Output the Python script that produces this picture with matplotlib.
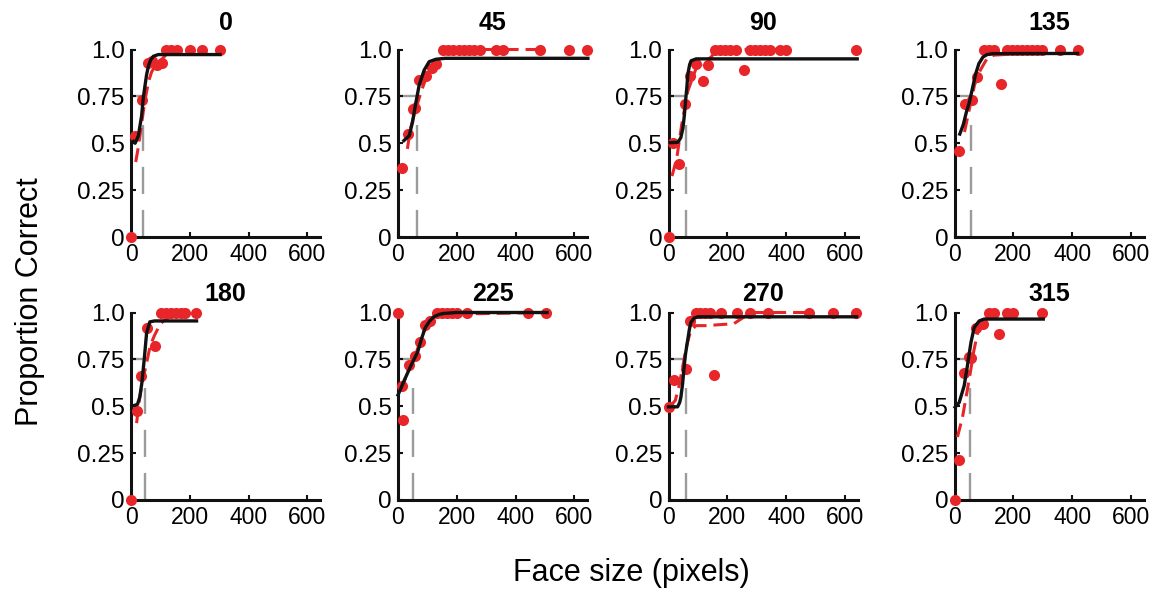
import matplotlib
matplotlib.use('Agg')
import matplotlib.pyplot as plt

plt.rcParams['font.family'] = ['Liberation Sans', 'DejaVu Sans']
plt.rcParams['lines.scale_dashes'] = False

# ---------------- data ----------------
titles = ['0', '45', '90', '135', '180', '225', '270', '315']
thresholds = [42, 65, 61, 57, 47, 51, 61, 52]

x_ticks = [0, 200, 400, 600]
x_tick_labels = ['0', '200', '400', '600']
y_ticks = [0, 0.25, 0.5, 0.75, 1.0]
y_tick_labels = ['0', '0.25', '0.5', '0.75', '1.0']

# data points (red dots)
dots_x_0 = [0, 14, 36, 57, 70, 87, 104, 118, 137, 157, 202, 241, 303]
dots_y_0 = [0, 0.54, 0.73, 0.93, 0.94, 0.92, 0.93, 1, 1, 1, 1, 1, 1]
dots_x_45 = [15, 34, 52, 57, 72, 95, 115, 130, 152, 170, 188, 206, 224, 242, 260, 278, 334, 357, 482, 582, 642]
dots_y_45 = [0.37, 0.55, 0.685, 0.69, 0.84, 0.86, 0.90, 0.925, 1, 1, 1, 1, 1, 1, 1, 1, 1, 1, 1, 1, 1]
dots_x_90 = [0, 15, 37, 55, 72, 94, 117, 134, 157, 174, 191, 208, 231, 256, 276, 293, 310, 327, 344, 378, 401, 637]
dots_y_90 = [0, 0.503, 0.387, 0.707, 0.857, 0.923, 0.83, 0.92, 1, 1, 1, 1, 1, 0.89, 1, 1, 1, 1, 1, 1, 1, 1]
dots_x_135 = [17, 37, 60, 77, 100, 117, 134, 158, 179, 196, 213, 230, 247, 264, 281, 298, 360, 419]
dots_y_135 = [0.457, 0.708, 0.73, 0.853, 1, 1, 1, 0.818, 1, 1, 1, 1, 1, 1, 1, 1, 1, 1]
dots_x_180 = [0, 20, 34, 56, 82, 101, 118, 135, 152, 169, 184, 220]
dots_y_180 = [0, 0.473, 0.66, 0.92, 0.82, 1, 1, 1, 1, 1, 1, 1]
dots_x_225 = [0, 14, 17, 36, 59, 76, 93, 110, 133, 150, 167, 185, 202, 236, 441, 503]
dots_y_225 = [1.0, 0.606, 0.427, 0.72, 0.767, 0.844, 0.934, 0.955, 1, 1, 1, 1, 1, 1, 1, 1]
dots_x_270 = [0, 19, 59, 74, 93, 108, 125, 142, 155, 178, 234, 277, 340, 479, 560, 637]
dots_y_270 = [0.497, 0.64, 0.698, 0.955, 1, 1, 1, 1, 0.668, 1, 1, 1, 1, 1, 1, 1]
dots_x_315 = [0, 16, 33, 50, 55, 73, 96, 116, 135, 152, 177, 199, 296]
dots_y_315 = [0, 0.212, 0.675, 0.765, 0.755, 0.92, 0.938, 1, 1, 0.885, 1, 1, 1]

# group psychometric fit (black curve)
fit_x_0 = [8, 14, 25, 36, 42, 47, 53, 59, 67, 76, 93, 303]
fit_y_0 = [0.51, 0.50, 0.54, 0.645, 0.745, 0.80, 0.865, 0.91, 0.945, 0.964, 0.973, 0.973]
fit_x_45 = [20, 38, 49, 60, 72, 89, 106, 129, 160, 646]
fit_y_45 = [0.514, 0.54, 0.61, 0.71, 0.81, 0.89, 0.935, 0.948, 0.953, 0.953]
fit_x_90 = [5, 32, 42, 49, 54, 58, 62, 66, 72, 77, 94, 642]
fit_y_90 = [0.503, 0.505, 0.53, 0.58, 0.65, 0.725, 0.79, 0.87, 0.92, 0.94, 0.95, 0.95]
fit_x_135 = [18, 30, 41, 50, 60, 72, 83, 97, 111, 130, 419]
fit_y_135 = [0.549, 0.60, 0.67, 0.715, 0.785, 0.87, 0.925, 0.96, 0.973, 0.978, 0.979]
fit_x_180 = [3, 22, 30, 37, 45, 53, 64, 80, 223]
fit_y_180 = [0.50, 0.51, 0.55, 0.625, 0.75, 0.89, 0.95, 0.955, 0.955]
fit_x_225 = [0, 19, 42, 67, 80, 93, 108, 122, 140, 156, 200, 507]
fit_y_225 = [0.56, 0.63, 0.71, 0.79, 0.86, 0.92, 0.955, 0.977, 0.99, 0.995, 1.0, 1.0]
fit_x_270 = [0, 31, 38, 42, 48, 53, 58, 65, 71, 76, 87, 100, 640]
fit_y_270 = [0.497, 0.497, 0.52, 0.547, 0.62, 0.707, 0.78, 0.85, 0.91, 0.947, 0.97, 0.977, 0.977]
fit_x_315 = [2, 16, 33, 44, 50, 56, 67, 84, 101, 302]
fit_y_315 = [0.495, 0.52, 0.61, 0.717, 0.78, 0.84, 0.92, 0.955, 0.965, 0.965]

# individual smoothed curve (red dashed)
smooth_x_0 = [16, 25, 34, 42, 50, 60, 70, 81, 100, 118]
smooth_y_0 = [0.40, 0.48, 0.58, 0.67, 0.75, 0.83, 0.88, 0.91, 0.94, 0.97]
smooth_x_45 = [32, 42, 59, 82, 100, 129, 152, 170, 482]
smooth_y_45 = [0.47, 0.576, 0.675, 0.79, 0.865, 0.92, 0.98, 1.0, 1.0]
smooth_x_90 = [12, 28, 45, 66, 94, 120, 145, 165, 401]
smooth_y_90 = [0.325, 0.42, 0.60, 0.78, 0.90, 0.93, 0.96, 1.0, 1.0]
smooth_x_135 = [34, 54, 68, 88, 110, 134, 190, 298]
smooth_y_135 = [0.56, 0.708, 0.81, 0.89, 0.95, 0.97, 0.975, 0.99]
smooth_x_180 = [19, 30, 40, 53, 65, 79, 100, 118, 150]
smooth_y_180 = [0.41, 0.55, 0.64, 0.73, 0.82, 0.875, 0.94, 0.964, 0.99]
smooth_x_225 = [10, 36, 59, 76, 93, 110, 133, 503]
smooth_y_225 = [0.58, 0.70, 0.77, 0.85, 0.92, 0.96, 0.99, 1.0]
smooth_x_270 = [5, 23, 36, 50, 61, 75, 93, 130, 172, 222, 256, 275, 479]
smooth_y_270 = [0.50, 0.53, 0.61, 0.725, 0.82, 0.90, 0.93, 0.93, 0.935, 0.94, 0.975, 1.0, 1.0]
smooth_x_315 = [10, 27, 44, 56, 65, 79, 97, 120]
smooth_y_315 = [0.336, 0.44, 0.59, 0.70, 0.79, 0.895, 0.94, 0.97]

dots_x = [dots_x_0, dots_x_45, dots_x_90, dots_x_135, dots_x_180, dots_x_225, dots_x_270, dots_x_315]
dots_y = [dots_y_0, dots_y_45, dots_y_90, dots_y_135, dots_y_180, dots_y_225, dots_y_270, dots_y_315]
fit_x = [fit_x_0, fit_x_45, fit_x_90, fit_x_135, fit_x_180, fit_x_225, fit_x_270, fit_x_315]
fit_y = [fit_y_0, fit_y_45, fit_y_90, fit_y_135, fit_y_180, fit_y_225, fit_y_270, fit_y_315]
smooth_x = [smooth_x_0, smooth_x_45, smooth_x_90, smooth_x_135, smooth_x_180, smooth_x_225, smooth_x_270, smooth_x_315]
smooth_y = [smooth_y_0, smooth_y_45, smooth_y_90, smooth_y_135, smooth_y_180, smooth_y_225, smooth_y_270, smooth_y_315]

criterion = 0.75
vline_top = 0.6

# ---------------- styling ----------------
RED = '#E8262A'
GRAY = '#9B9B9B'
BLACK = '#111111'

W, H = 1168, 592
fig = plt.figure(figsize=(W / 100, H / 100), dpi=100)

lefts_px = [131, 398, 668.5, 954.5]
tops_px = [49.5, 312.5]
ax_w_px = 189
ax_h_px = 187.5
title_pads = [14, 8]

for i in range(8):
    r, c = divmod(i, 4)
    left = lefts_px[c] / W
    bottom = 1 - (tops_px[r] + ax_h_px) / H
    ax = fig.add_axes([left, bottom, ax_w_px / W, ax_h_px / H])

    thr = thresholds[i]
    # criterion guides
    ax.plot([0, thr], [criterion, criterion], color=GRAY, lw=1.7, solid_capstyle='butt', zorder=1)
    ax.plot([thr, thr], [0, vline_top], color=GRAY, lw=1.7, ls=(0, (19.5, 11.5)),
            dash_capstyle='butt', zorder=1)

    ax.plot(dots_x[i], dots_y[i], 'o', color=RED, ms=8, mew=0, clip_on=False, zorder=3)
    ax.plot(smooth_x[i], smooth_y[i], color=RED, lw=2.2, ls=(0, (10, 5)), clip_on=False, zorder=4)
    ax.plot(fit_x[i], fit_y[i], color=BLACK, lw=2.4, clip_on=False, zorder=5)

    ax.set_xlim(0, 643)
    ax.set_ylim(0, 1.0)
    ax.set_xticks(x_ticks)
    ax.set_xticklabels(x_tick_labels)
    ax.set_yticks(y_ticks)
    ax.set_yticklabels(y_tick_labels)
    ax.tick_params(direction='in', length=3.5, width=1.5, pad=4.5, color=BLACK)
    ax.tick_params(axis='x', labelsize=16.5)
    ax.tick_params(axis='y', labelsize=17.5)
    for s in ['top', 'right']:
        ax.spines[s].set_visible(False)
    for s in ['left', 'bottom']:
        ax.spines[s].set_linewidth(2.2)
        ax.spines[s].set_color(BLACK)
    ax.set_facecolor('none')
    ax.set_title(titles[i], fontsize=18, fontweight='bold', pad=title_pads[r])

fig.text(30 / W, 1 - 302 / H, 'Proportion Correct', rotation=90, fontsize=22,
         ha='center', va='center')
fig.text(631 / W, 1 - 573 / H, 'Face size (pixels)', fontsize=22, ha='center', va='center')

fig.savefig('out.png', dpi=100)
